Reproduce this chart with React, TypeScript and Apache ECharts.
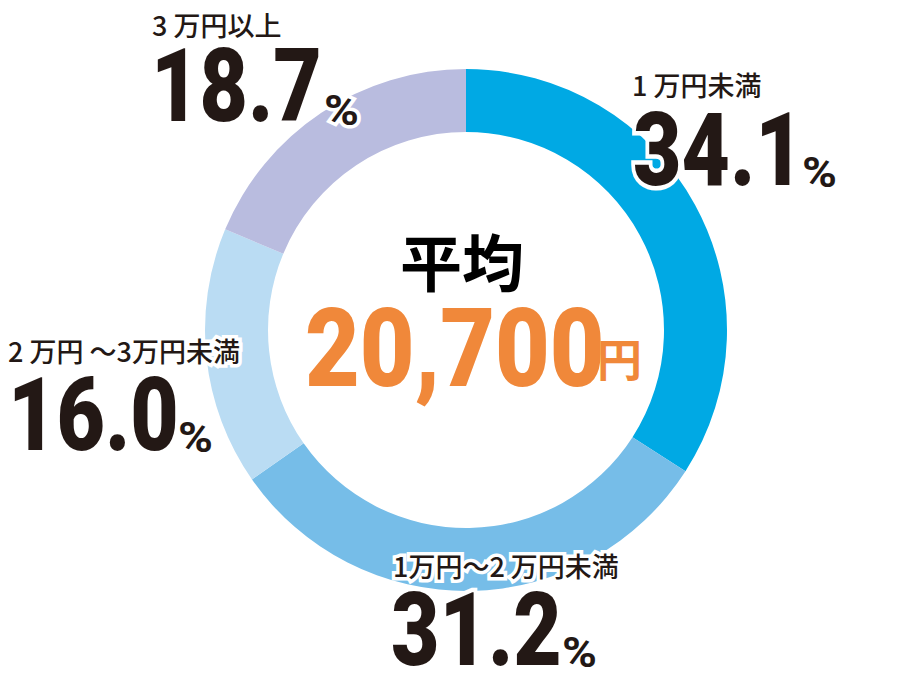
import React, { useEffect, useRef } from "react";
import * as echarts from "echarts";

const categories = ["1 万円未満", "1万円～2 万円未満", "2 万円 ～3万円未満", "3 万円以上"];
const values = [34.1, 31.2, 16.0, 18.7];
const colors = ["#00a9e4", "#76bde8", "#badcf3", "#b9bcdf"];
const averageLabel = "平均";
const averageValue = "20,700";
const averageUnit = "円";

// layout: [labelX, labelY, numberX, numberCenterY, percentX, percentCenterY]
const layout = [
  [632, 71, 633, 151, 802, 172.5],
  [393, 552, 391, 631.5, 562, 653],
  [8, 337, 8, 416.5, 178, 437.5],
  [152, 11, 151, 87.5, 324, 110.5],
];

export default function App() {
  const ref = useRef<HTMLDivElement>(null);
  useEffect(() => {
    const chart = echarts.init(ref.current!, null, { renderer: "svg" });
    const dark = "#231815";
    const orange = "#f0883a";
    const graphics: any[] = [];
    categories.forEach((c, i) => {
      const [lx, ly, nx, ncy, px, pcy] = layout[i];
      graphics.push({
        type: "text",
        x: lx,
        y: ly,
        z: 100,
        style: {
          text: c,
          fill: dark,
          font: '500 27px "Noto Sans CJK JP"',
          textAlign: "left",
          textVerticalAlign: "top",
          stroke: "#fff",
          lineWidth: 7,
          strokeFirst: true,
        },
      });
      graphics.push({
        type: "text",
        x: nx,
        y: ncy - 41.4,
        z: 100,
        scaleX: 0.82,
        style: {
          text: values[i].toFixed(1),
          fill: dark,
          font: '900 102px Roboto',
          lineHeight: 80,
          textAlign: "left",
          textVerticalAlign: "top",
          stroke: "#fff",
          lineWidth: 9,
          strokeFirst: true,
        },
      });
      graphics.push({
        type: "text",
        x: px,
        y: pcy - 20.6,
        z: 100,
        scaleX: 1.1,
        style: {
          text: "%",
          fill: dark,
          font: 'bold 43px Roboto',
          lineHeight: 40,
          textAlign: "left",
          textVerticalAlign: "top",
          stroke: "#fff",
          lineWidth: 7,
          strokeFirst: true,
        },
      });
    });
    graphics.push({
      type: "text",
      x: 462,
      y: 229,
      z: 100,
      style: {
        text: averageLabel,
        fill: "#000",
        font: 'bold 62px "Noto Sans CJK JP"',
        textAlign: "center",
        textVerticalAlign: "top",
      },
    });
    graphics.push({
      type: "text",
      x: 305,
      y: 293,
      z: 100,
      scaleX: 0.86,
      style: {
        text: averageValue,
        fill: orange,
        font: '900 110px Roboto',
        textAlign: "left",
        textVerticalAlign: "top",
      },
    });
    graphics.push({
      type: "text",
      x: 597,
      y: 335,
      z: 100,
      style: {
        text: averageUnit,
        fill: orange,
        font: 'bold 45px "Noto Sans CJK JP"',
        textAlign: "left",
        textVerticalAlign: "top",
      },
    });

    chart.setOption({
      animation: false,
      backgroundColor: "#ffffff",
      series: [
        {
          type: "pie",
          z: 1,
          center: [466, 330],
          radius: [198, 261],
          startAngle: 90,
          clockwise: true,
          silent: true,
          label: { show: false },
          labelLine: { show: false },
          itemStyle: { borderWidth: 0 },
          data: categories.map((c, i) => ({
            name: c,
            value: values[i],
            itemStyle: { color: colors[i] },
          })),
        },
      ],
      graphic: graphics,
    });
    return () => chart.dispose();
  }, []);
  return (
    <div
      ref={ref}
      style={{ position: "fixed", left: 0, top: 0, width: 918, height: 684 }}
    />
  );
}
